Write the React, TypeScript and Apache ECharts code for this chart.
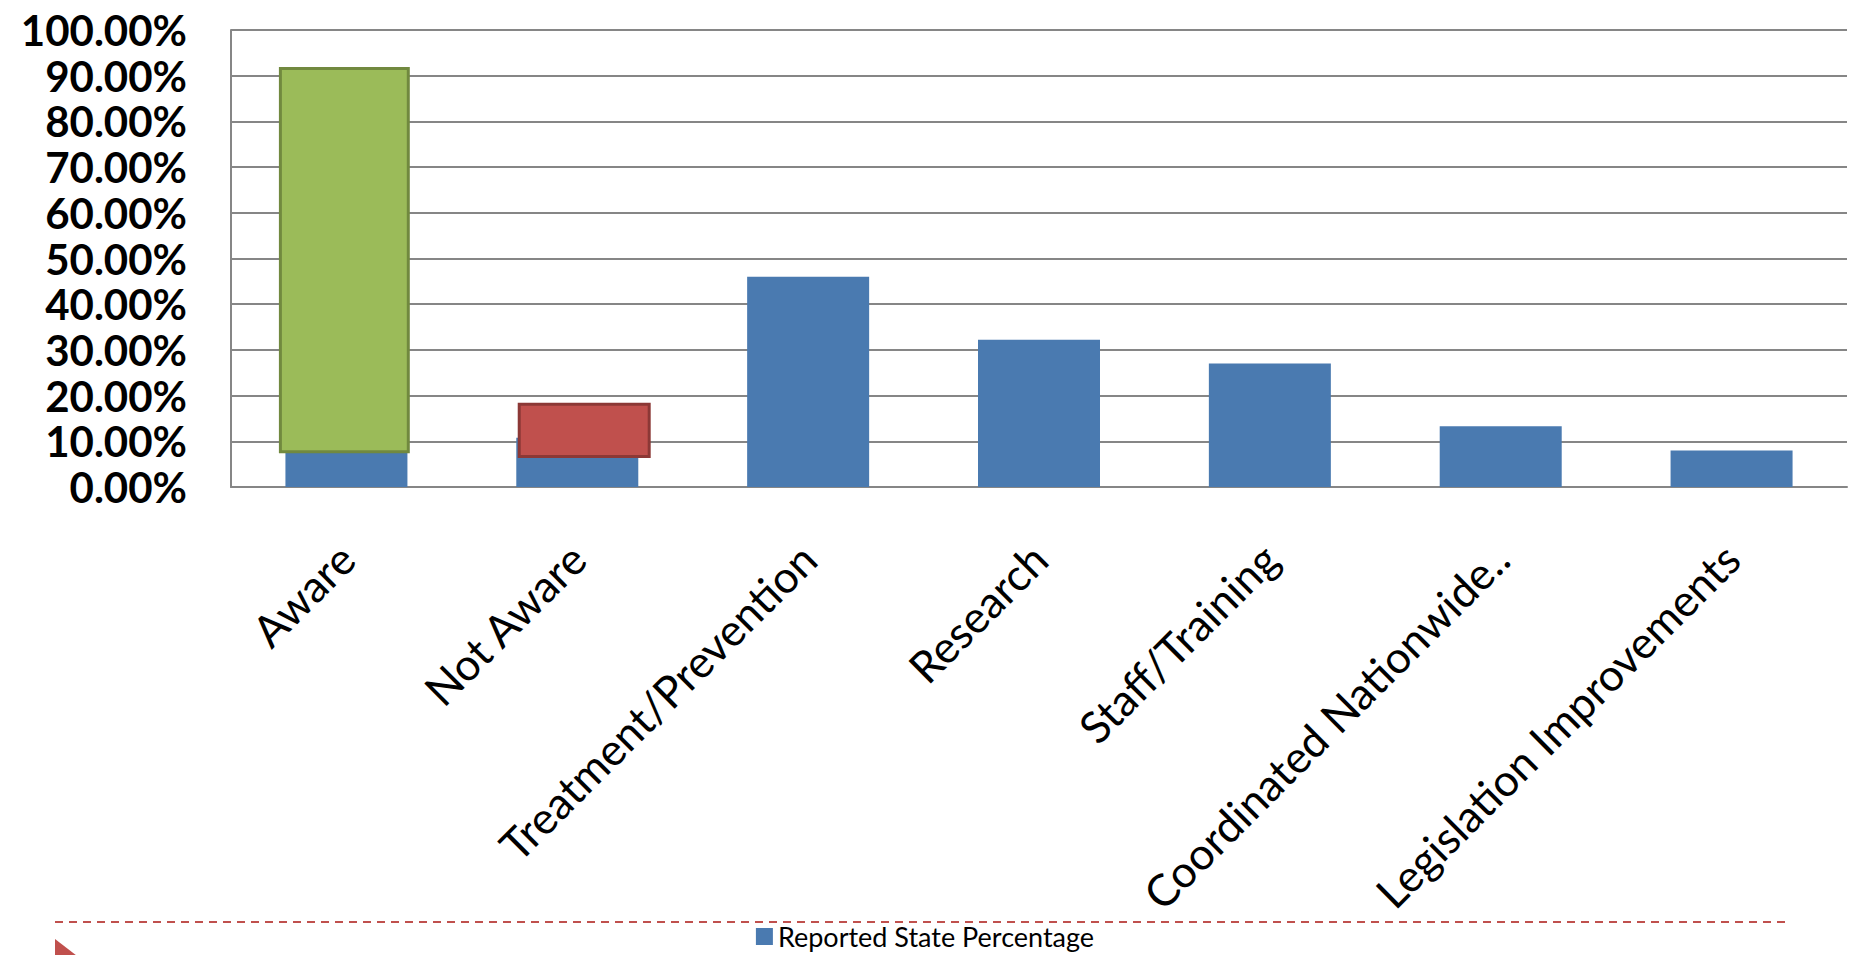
import React, { useEffect, useRef } from "react";
import * as echarts from "echarts";

const categories = [
  "Aware",
  "Not Aware",
  "Treatment/Prevention",
  "Research",
  "Staff/Training",
  "Coordinated Nationwide..",
  "Legislation Improvements",
];
const seriesName = "Reported State Percentage";
const reportedStatePercentage = [89.2, 10.8, 46.0, 32.2, 27.0, 13.3, 8.0];
const yMin = 0;
const yMax = 100;
const yStep = 10;
// annotation boxes drawn over the bars: [categoryIndex, from %, to %]
const awareBox = [0, 7.7, 91.6];
const notAwareBox = [1, 6.7, 18.1];

const LABEL_FONT = "Lato, 'Open Sans', sans-serif";

function boxSeries(box: number[], fill: string, stroke: string, widthFrac: number, offsetFrac: number) {
  return {
    type: "custom",
    data: [box],
    encode: { x: 0, y: [1, 2] },
    silent: true,
    z: 5,
    renderItem: (_params: any, api: any) => {
      const c = api.value(0);
      const lo = api.coord([c, api.value(1)]);
      const hi = api.coord([c, api.value(2)]);
      const band = api.size([1, 0])[0];
      const w = band * widthFrac;
      const cx = lo[0] + band * offsetFrac;
      return {
        type: "rect",
        shape: { x: cx - w / 2, y: hi[1], width: w, height: lo[1] - hi[1] },
        style: { fill, stroke, lineWidth: 3 },
      };
    },
  };
}

export default function App() {
  const ref = useRef<HTMLDivElement>(null);
  useEffect(() => {
    if (!ref.current) return;
    const chart = echarts.init(ref.current, null, { renderer: "svg" });
    chart.setOption({
      animation: false,
      backgroundColor: "#ffffff",
      grid: { left: 231, right: 3, top: 30, bottom: 468, containLabel: false },
      legend: {
        data: [seriesName],
        left: "center",
        top: 923,
        icon: "rect",
        itemWidth: 17,
        itemHeight: 17,
        itemGap: 7,
        padding: 0,
        textStyle: { fontFamily: LABEL_FONT, fontSize: 27, color: "#000", lineHeight: 27 },
      },
      xAxis: {
        type: "category",
        data: categories,
        axisLine: { show: true, lineStyle: { color: "#868686", width: 2 } },
        axisTick: { show: false },
        axisLabel: {
          interval: 0,
          rotate: 45,
          margin: 64,
          fontFamily: LABEL_FONT,
          fontSize: 44,
          color: "#000",
        },
      },
      yAxis: {
        type: "value",
        min: yMin,
        max: yMax,
        interval: yStep,
        axisLine: { show: true, lineStyle: { color: "#868686", width: 2 } },
        axisTick: { show: false },
        splitLine: { show: true, lineStyle: { color: "#868686", width: 2 } },
        axisLabel: {
          margin: 44,
          showMinLabel: true,
          showMaxLabel: true,
          hideOverlap: false,
          formatter: (v: number) => `${v.toFixed(2)}%`,
          fontFamily: LABEL_FONT,
          fontWeight: "bold",
          fontSize: 42,
          lineHeight: 44,
          color: "#000",
        },
      },
      series: [
        {
          name: seriesName,
          type: "bar",
          data: reportedStatePercentage,
          barWidth: 122,
          itemStyle: { color: "#4A7AB0" },
        },
        boxSeries(awareBox, "#9BBB59", "#71893F", 0.554, -0.009),
        boxSeries(notAwareBox, "#C0504D", "#8C3836", 0.563, 0.03),
      ],
      graphic: [
        {
          type: "line",
          shape: { x1: 55, y1: 922, x2: 1785, y2: 922 },
          style: { stroke: "#C0504D", lineWidth: 2, lineDash: [8, 6] },
          silent: true,
        },
        {
          type: "polygon",
          shape: { points: [[55, 939], [94, 969], [55, 999]] },
          style: { fill: "#C0504D" },
          silent: true,
        },
      ],
    });
    return () => chart.dispose();
  }, []);
  return (
    <div
      ref={ref}
      style={{ position: "fixed", left: 0, top: 0, width: 1850, height: 955, background: "#fff" }}
    />
  );
}
